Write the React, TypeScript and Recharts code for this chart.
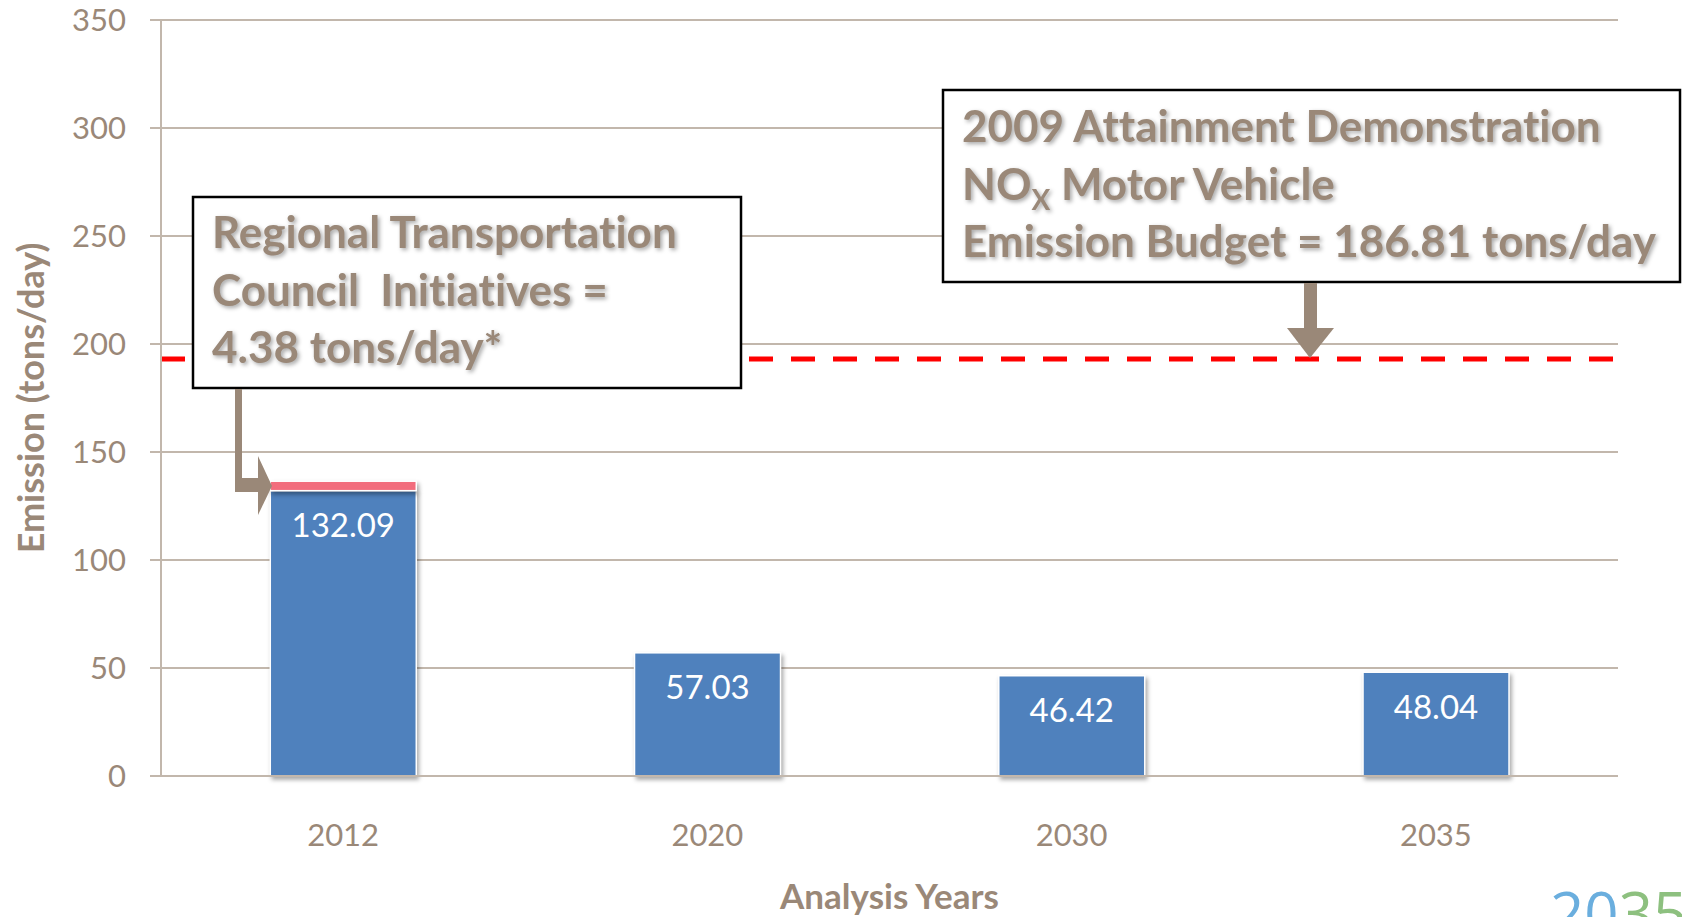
import { BarChart, Bar, XAxis, YAxis, CartesianGrid, ReferenceLine, LabelList } from "recharts";

document.body.style.margin = "0";
document.body.style.overflow = "hidden";

const years = ["2012", "2020", "2030", "2035"];
const baseEmission = [132.09, 57.03, 46.42, 48.04];
const rtcInitiatives = [4.38, 0, 0, 0];
const yTicks = [0, 50, 100, 150, 200, 250, 300, 350];
const budgetLine = 193; // where the dashed line sits in the picture

const data = years.map((year, i) => ({
  year,
  base: baseEmission[i],
  rtc: rtcInitiatives[i],
}));

const BROWN = "#9a8878";
const GRID = "#c2b7ac";
const FONT = "Lato, 'Open Sans', sans-serif";
const noLiga = { fontVariantLigatures: "none" as const, fontFeatureSettings: "'liga' 0" };

const BarShape = (props: any) => {
  const { x, y, width, height, fill } = props;
  if (!height || height <= 0) return <g />;
  return (
    <rect
      x={x}
      y={y}
      width={width}
      height={height}
      fill={fill}
      stroke="#ffffff"
      strokeWidth={1.5}
      style={{ filter: "drop-shadow(2px 3px 2px rgba(0,0,0,0.35))" }}
    />
  );
};

const textShadow = { filter: "drop-shadow(2px 2px 2px rgba(0,0,0,0.35))", ...noLiga };

const Annotations = () => (
  <svg
    width={1682}
    height={917}
    style={{ position: "absolute", left: 0, top: 0, pointerEvents: "none" }}
  >
    {/* RTC box */}
    <rect x={193} y={197} width={548} height={191} fill="#fff" stroke="#000" strokeWidth={2.5} />
    <g fontFamily={FONT} fontWeight={700} fontSize={44} fill={BROWN} style={textShadow}>
      <text x={212} y={248}>Regional Transportation</text>
      <text x={212} y={306} xmlSpace="preserve">Council  Initiatives =</text>
      <text x={212} y={363}>4.38 tons/day*</text>
    </g>
    <rect x={235} y={389} width={7} height={103} fill={BROWN} />
    <rect x={235} y={478} width={24} height={14} fill={BROWN} />
    <polygon points="258,456 272,486 258,515" fill={BROWN} />

    {/* budget box */}
    <rect x={943} y={90} width={737} height={192} fill="#fff" stroke="#000" strokeWidth={2.5} />
    <g fontFamily={FONT} fontWeight={700} fontSize={44} fill={BROWN} style={textShadow}>
      <text x={962} y={142}>2009 Attainment Demonstration</text>
      <text x={962} y={200}>
        NO<tspan fontSize={28} dy={10}>X</tspan>
        <tspan dy={-10}> Motor Vehicle</tspan>
      </text>
      <text x={962} y={257}>Emission Budget = 186.81 tons/day</text>
    </g>
    <rect x={1304} y={283} width={13} height={46} fill={BROWN} />
    <polygon points="1287,328 1334,328 1310,358" fill={BROWN} />

    {/* logo, clipped by the page edge as in the source */}
    <text x={1550} y={935} fontFamily="'Open Sans', sans-serif" fontWeight={400} fontSize={60}>
      <tspan fill="#6aaede">20</tspan>
      <tspan fill="#8dc07f">35</tspan>
    </text>
  </svg>
);

export default function App() {
  return (
    <div style={{ position: "relative", width: 1682, height: 917, overflow: "hidden", background: "#fff" }}>
      <BarChart
        width={1682}
        height={917}
        data={data}
        margin={{ top: 20, right: 64, left: 0, bottom: 0 }}
        barCategoryGap="30%"
      >
        <CartesianGrid vertical={false} stroke={GRID} strokeWidth={2} />
        <XAxis
          dataKey="year"
          height={141}
          axisLine={{ stroke: GRID, strokeWidth: 2 }}
          tickLine={false}
          tickSize={0}
          tickMargin={48}
          tick={{ fill: BROWN, fontSize: 31, fontFamily: FONT }}
          label={{
            value: "Analysis Years",
            position: "insideBottom",
            offset: 8,
            fill: BROWN,
            fontSize: 35,
            fontWeight: 700,
            fontFamily: FONT,
          }}
        />
        <YAxis
          width={161}
          domain={[0, 350]}
          ticks={yTicks}
          interval={0}
          axisLine={{ stroke: GRID, strokeWidth: 2 }}
          tickLine={{ stroke: GRID, strokeWidth: 2 }}
          tickSize={11}
          tickMargin={24}
          tick={{ fill: BROWN, fontSize: 31, fontFamily: FONT }}
          label={{
            value: "Emission (tons/day)",
            angle: -90,
            position: "insideLeft",
            offset: 31,
            fill: BROWN,
            fontSize: 36,
            fontWeight: 700,
            fontFamily: FONT,
            style: { textAnchor: "middle" },
          }}
        />
        <ReferenceLine y={budgetLine} stroke="#ff0000" strokeWidth={5} strokeDasharray="24 18" />
        <Bar dataKey="base" stackId="a" fill="#4f81bd" shape={BarShape} isAnimationActive={false}>
          <LabelList
            dataKey="base"
            position="insideTop"
            offset={23}
            fill="#ffffff"
            fontSize={33}
            fontFamily={FONT}
          />
        </Bar>
        <Bar dataKey="rtc" stackId="a" fill="#f26d7d" shape={BarShape} isAnimationActive={false} />
      </BarChart>
      <Annotations />
    </div>
  );
}
